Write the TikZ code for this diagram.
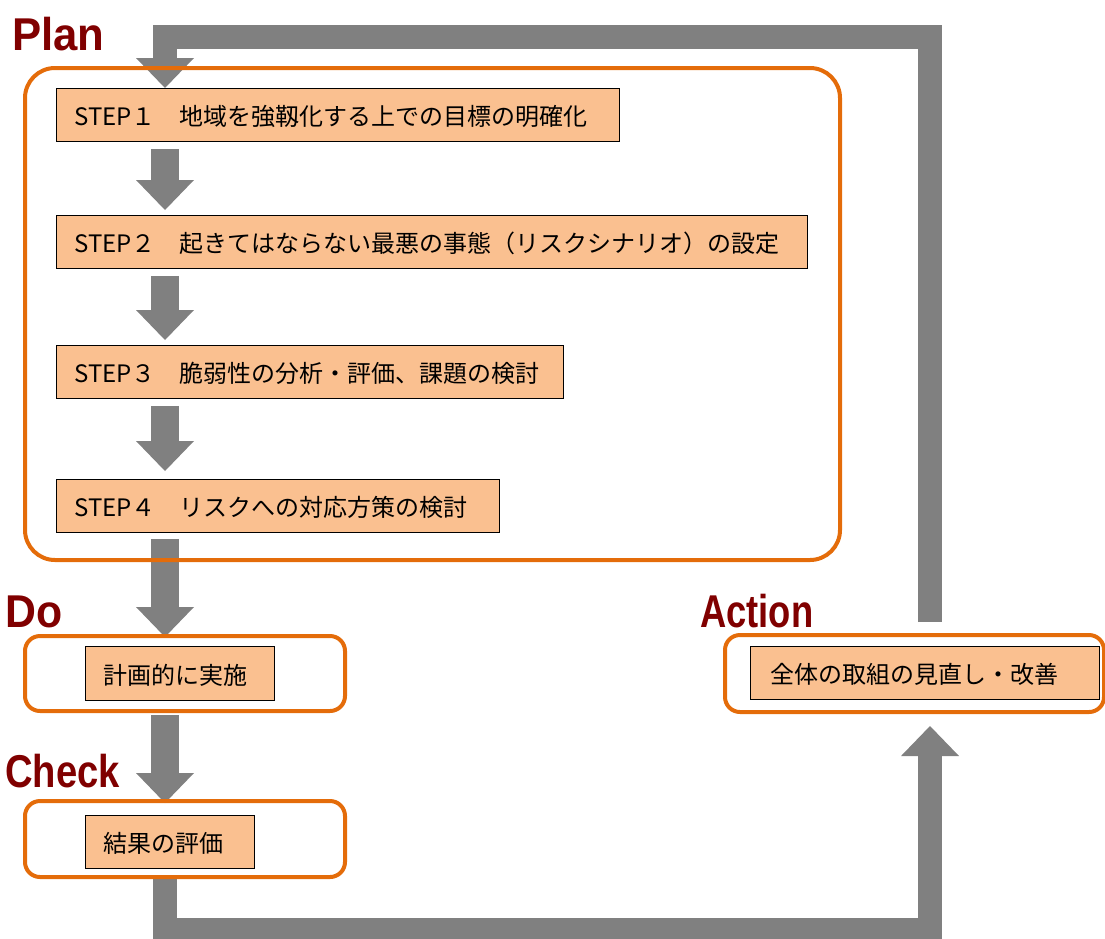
\documentclass[tikz,border=0pt]{standalone}
\usepackage{fontspec}
\newfontfamily\jp{Noto Sans CJK JP}
\newfontfamily\labfont{Liberation Sans}
\usetikzlibrary{arrows.meta}
\definecolor{pdcaorange}{HTML}{E46C0A}
\definecolor{boxfill}{HTML}{FAC090}
\definecolor{flowgray}{HTML}{808080}
\definecolor{pdcamaroon}{HTML}{800000}
\pgfdeclarelayer{bg}
\pgfsetlayers{bg,main}
\tikzset{
  phase/.style={draw=pdcaorange, line width=4pt, rounded corners=#1, anchor=north west, inner sep=0pt},
  stepbox/.style={draw=black, line width=0.8pt, fill=boxfill, anchor=north west, inner xsep=18pt, inner ysep=0pt,
    minimum height=53pt, text height=24pt, text depth=2pt, font=\jp\fontsize{24}{24}\selectfont},
  flow/.style={draw=flowgray, line width=28pt, line join=miter,
    -{Triangle[width=58pt,length=30pt,line width=0pt]}},
  loop/.style={draw=flowgray, line width=24pt, line join=miter,
    -{Triangle[width=58pt,length=30pt,line width=0pt]}},
  pdcalabel/.style={anchor=base west, inner sep=0pt, text=pdcamaroon, font=\labfont\bfseries\fontsize{46}{46}\selectfont}
}
\begin{document}
\begin{tikzpicture}[x=1pt,y=-1pt]
\useasboundingbox (0,0) rectangle (1105,938);
% phase frames
\node[phase=30pt, minimum width=815pt, minimum height=492pt] (plan) at (23,66) {};
\node[phase=15pt, minimum width=320pt, minimum height=75pt] (do) at (23,634) {};
\node[phase=15pt, minimum width=320pt, minimum height=76pt] (check) at (23,799) {};
\node[phase=15pt, minimum width=379pt, minimum height=77pt] (act) at (723,633) {};
% labels
\node[pdcalabel] (lplan) at (12,50) {\scalebox{0.95}[1]{Plan}};
\node[pdcalabel] (ldo) at (5,627) {\scalebox{0.93}[1]{Do}};
\node[pdcalabel] (lcheck) at (5,787) {\scalebox{0.83}[1]{Check}};
\node[pdcalabel] (lact) at (700,627) {\scalebox{0.79}[1]{Action}};
% step boxes
\node[stepbox] (s1) at (56,88) {\makebox[527pt][l]{STEP１　地域を強靱化する上での目標の明確化}};
\node[stepbox] (s2) at (56,215) {\makebox[715pt][l]{STEP２　起きてはならない最悪の事態（リスクシナリオ）の設定}};
\node[stepbox] (s3) at (56,345) {\makebox[471pt][l]{STEP３　脆弱性の分析・評価、課題の検討}};
\node[stepbox] (s4) at (56,479) {\makebox[407pt][l]{STEP４　リスクへの対応方策の検討}};
\node[stepbox, minimum height=54pt] (dotask) at (85,646) {\makebox[153pt][l]{計画的に実施}};
\node[stepbox] (checktask) at (85,815) {\makebox[133pt][l]{結果の評価}};
\node[stepbox] (acttask) at (750,646) {\makebox[313pt][l]{\hspace{2pt}全体の取組の見直し・改善}};
% helper coordinates
\coordinate (ax) at (165,0);
\coordinate (rx) at (930,0);
\coordinate (ty) at (0,37);
\coordinate (by) at (0,930);
% connectors
\begin{pgfonlayer}{bg}
\draw[flow, shorten <=7pt, shorten >=5pt] (s1.south -| ax) -- (s2.north -| ax);
\draw[flow, shorten <=7pt, shorten >=5pt] (s2.south -| ax) -- (s3.north -| ax);
\draw[flow, shorten <=7pt, shorten >=8pt] (s3.south -| ax) -- (s4.north -| ax);
\draw[flow, shorten <=6pt, shorten >=-3pt] (s4.south -| ax) -- (do.north -| ax);
\draw[flow, shorten <=2pt, shorten >=-4pt] (do.south -| ax) -- (check.north -| ax);
\draw[loop, shorten >=12pt] (check.south -| ax) -- (ax |- by) -- (rx |- by) -- (act.south -| rx);
\draw[loop, shorten <=11pt] (act.north -| rx) -- (rx |- ty) -- (ax |- ty) -- (s1.north -| ax);
\end{pgfonlayer}
\end{tikzpicture}
\end{document}
